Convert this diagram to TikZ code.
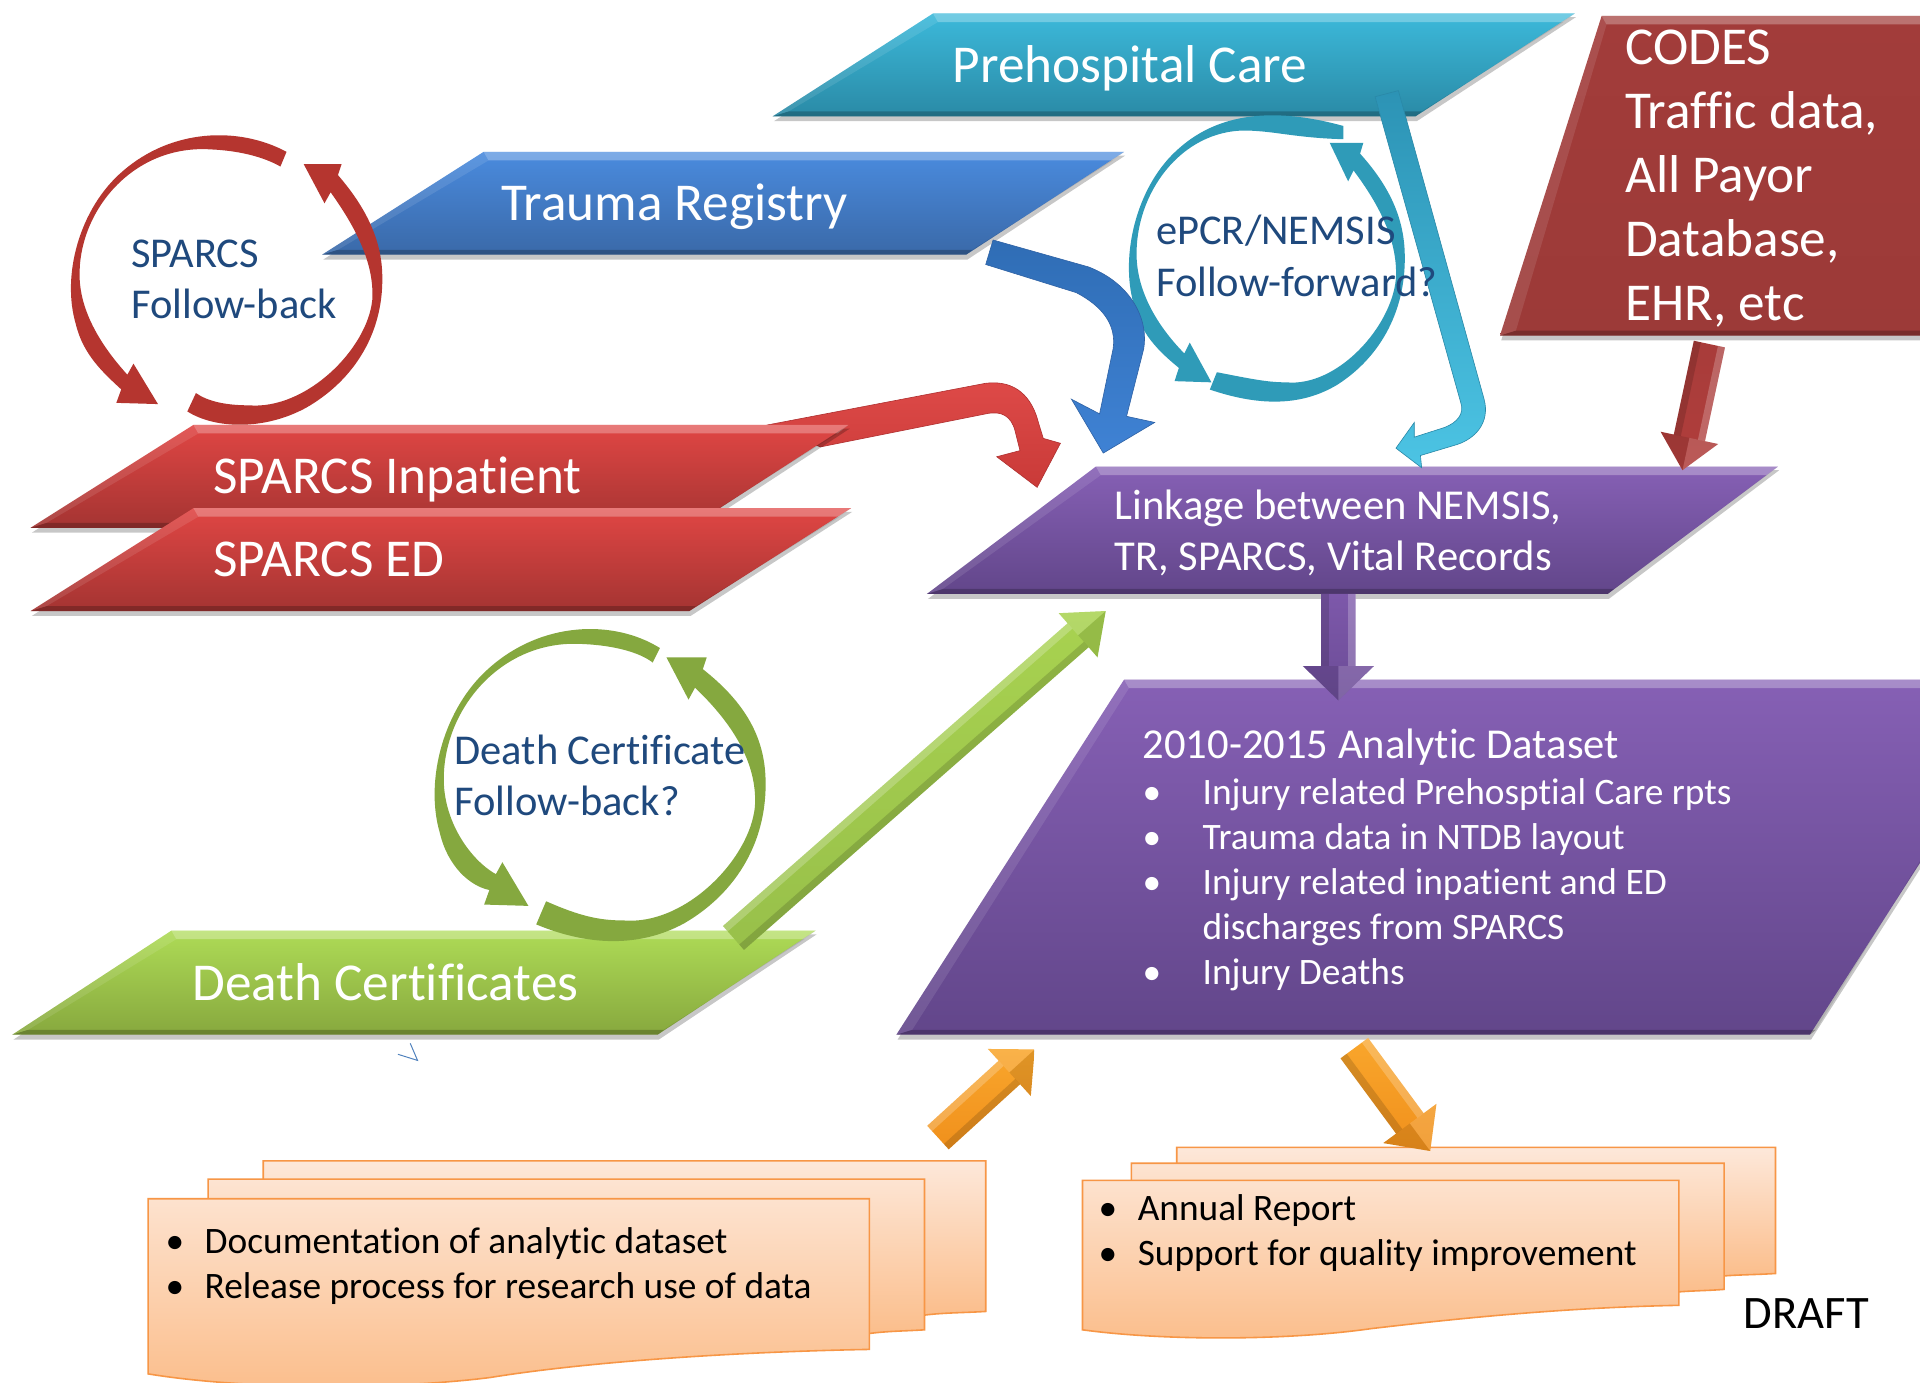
\documentclass[tikz,border=0pt]{standalone}
\usepackage{fontspec}
\setmainfont{Carlito}[Ligatures=NoCommon]
\usetikzlibrary{calc}
\definecolor{navy}{HTML}{1F497D}
\definecolor{docline}{HTML}{F79646}
\definecolor{tealT}{HTML}{3CB9DA}\definecolor{tealB}{HTML}{2A8AA6}
\definecolor{blueT}{HTML}{4A8BDE}\definecolor{blueB}{HTML}{3A69A8}
\definecolor{redT}{HTML}{E04644}\definecolor{redB}{HTML}{A43432}
\definecolor{grnT}{HTML}{AEDB56}\definecolor{grnB}{HTML}{87A83E}
\definecolor{wineT}{HTML}{A23C3A}\definecolor{wineB}{HTML}{9C3A38}
\definecolor{purT}{HTML}{8660B5}\definecolor{purB}{HTML}{62468A}
\definecolor{sheetA}{HTML}{FDE8DA}\definecolor{sheetB}{HTML}{FDE4D2}\definecolor{sheetC}{HTML}{FDE2CE}
\definecolor{ringRed}{HTML}{B5352F}\definecolor{ringTeal}{HTML}{2F9BB8}\definecolor{ringGrn}{HTML}{85A83F}
\definecolor{arrRedT}{HTML}{DE4A48}\definecolor{arrRedB}{HTML}{C93A38}\definecolor{arrRedL}{HTML}{B03030}
\definecolor{arrBluT}{HTML}{2F6DB5}\definecolor{arrBluB}{HTML}{3F82D4}\definecolor{arrBluL}{HTML}{2F62A5}
\definecolor{arrTeaT}{HTML}{2C93B5}\definecolor{arrTeaB}{HTML}{4CC4E4}\definecolor{arrTeaL}{HTML}{2A89A8}
\definecolor{arrWinT}{HTML}{A83C3A}\definecolor{arrWinB}{HTML}{B03E3C}
\definecolor{arrPurT}{HTML}{7D58AA}\definecolor{arrPurB}{HTML}{6B4C96}
\definecolor{arrGrnT}{HTML}{A8D250}\definecolor{arrGrnB}{HTML}{98C04A}
\definecolor{orgT}{HTML}{F9A62C}\definecolor{orgB}{HTML}{F0901C}
\definecolor{markBlue}{HTML}{4F81BD}
\definecolor{sheetEnd}{HTML}{FBBE8C}
\newcommand\fs[2]{\fontsize{#1}{#2}\selectfont}
\tikzset{
  lbl/.style={anchor=west,inner sep=0pt,align=left,text=white},
  bar/.style={anchor=base west,inner sep=0pt,text=white,font=\fs{43.5}{50}},
  dark/.style={anchor=west,inner sep=0pt,align=left,text=navy},
  blk/.style={anchor=west,inner sep=0pt,align=left,text=black},
  sheet/.style={draw=docline,line width=1.3pt,top color=#1,bottom color=sheetEnd},
}
% bevelled parallelogram: corners tl tr br bl, gradient top bottom
\newcommand\bpara[6]{%
  \fill[black,opacity=.22] ($(#1)+(1,3)$) -- ($(#2)+(1,3)$) -- ($(#3)+(1,4)$) -- ($(#4)+(1,4)$) -- cycle;
  \shade[top color=#5,bottom color=#6] (#1) -- (#2) -- (#3) -- (#4) -- cycle;
  \fill[white,opacity=.28] (#1) -- (#2) -- ($(#2)+(-9,7)$) -- ($(#1)+(4,7)$) -- cycle;
  \fill[white,opacity=.10] (#1) -- (#4) -- ($(#4)+(13,-4)$) -- ($(#1)+(4,7)$) -- cycle;
  \fill[black,opacity=.22] (#4) -- (#3) -- ($(#3)+(5,-4)$) -- ($(#4)+(13,-4)$) -- cycle;
  \fill[black,opacity=.10] (#2) -- (#3) -- ($(#3)+(5,-4)$) -- ($(#2)+(-9,7)$) -- cycle;
}
% straight block arrow from (tail) to (tip): half shaft, half head, head length
\newcommand\blockarrow[7]{%
  \coordinate (ba) at ($(#2)!#5pt!(#1)$);
  \shade[top color=#6,bottom color=#7]
    ($(#1)!#3pt!90:(#2)$) -- ($(ba)!#3pt!90:(#2)$) -- ($(ba)!#4pt!90:(#2)$) -- (#2)
    -- ($(ba)!#4pt!-90:(#2)$) -- ($(ba)!#3pt!-90:(#2)$) -- ($(#1)!#3pt!-90:(#2)$) -- cycle;
  \fill[white,opacity=.22] ($(#1)!#3pt!90:(#2)$) -- ($(ba)!#3pt!90:(#2)$) -- ($(ba)!.55*#3pt!90:(#2)$) -- ($(#1)!.55*#3pt!90:(#2)$) -- cycle;
  \fill[white,opacity=.14] ($(ba)!#4pt!90:(#2)$) -- (#2) -- (ba) -- cycle;
  \fill[black,opacity=.14] ($(#1)!#3pt!-90:(#2)$) -- ($(ba)!#3pt!-90:(#2)$) -- ($(ba)!.55*#3pt!-90:(#2)$) -- ($(#1)!.55*#3pt!-90:(#2)$) -- cycle;
  \fill[black,opacity=.10] ($(ba)!#4pt!-90:(#2)$) -- (#2) -- (ba) -- cycle;
}
% pair of crescent arrows. Args: shift x, y, xscale, yscale, colour,
% top end outer, top end inner, bottom start outer, bottom start inner,
% lower head offset, upper head offset
\newcommand\ringpair[9]{%
  \def\ringargs{{#1}{#2}{#3}{#4}{#5}{#6}{#7}{#8}{#9}}\ringpairB}
\newcommand\ringpairB[2]{\expandafter\ringdraw\ringargs{#1}{#2}}
\newcommand\ringdraw[9]{\def\RA{#1}\def\RB{#2}\def\RC{#3}\def\RD{#4}\def\RE{#5}\def\RF{#6}\def\RG{#7}\def\RH{#8}\def\RI{#9}\ringdrawB}
\newcommand\ringdrawB[2]{%
  \begin{scope}[shift={(\RA,\RB)},xscale=\RC,yscale=\RD,shift={(-58,-110)}]
    \fill[\RE] (\RF) .. controls (195,103) and (140,105) .. (100,140)
      .. controls (65,170) and (50,225) .. (62,265)
      .. controls (68,290) and (85,305) .. ($(99,318)+(#1)$)
      -- ($(95,329)+(#1)$) -- ($(129,330)+(#1)$) -- ($(109,297)+(#1)$) -- ($(104,306)+(#1)$)
      .. controls (85,285) and (64,255) .. (65,222)
      .. controls (66,170) and (110,118) .. (172,122)
      .. controls (195,123) and (215,128) .. (\RG) -- cycle;
    \fill[\RE] (\RH) .. controls (175,350) and (215,352) .. (250,333)
      .. controls (290,310) and (315,270) .. (312,220)
      .. controls (310,190) and (295,165) .. ($(276,143)+(#2)$)
      -- ($(279,134)+(#2)$) -- ($(248,134)+(#2)$) -- ($(265,166)+(#2)$) -- ($(270,157)+(#2)$)
      .. controls (290,185) and (306,215) .. (304,245)
      .. controls (300,285) and (250,335) .. (203,331)
      .. controls (185,331) and (170,328) .. (\RI) -- cycle;
  \end{scope}
}
\begin{document}
\begin{tikzpicture}[x=1pt,y=-1pt]
\useasboundingbox (0,0) rectangle (1568,1129.4);
\clip (0,0) rectangle (1568,1129.4);
\fill[white] (0,0) rectangle (1568,1129.4);

% source bars
\bpara{762,11}{1286,11}{1156,95}{631,95}{tealT}{tealB}
\bpara{395,124}{918,124}{789,208}{263,208}{blueT}{blueB}

% red arrow tucked behind the inpatient bar
\shadedraw[top color=arrRedT,bottom color=arrRedB,draw=arrRedL,line width=.5pt]
  (627,347) -- (805,313) .. controls (830,310) and (843,325) .. (848,345)
  -- (852,358) -- (866,362) -- (847,398) -- (814,373) -- (833,368) -- (829,352)
  .. controls (826,340) and (818,335) .. (805,338) -- (670,365) -- cycle;
\bpara{158,347}{693,347}{563,431}{25,431}{redT}{redB}
\bpara{158,415}{695,415}{563,499}{25,499}{redT}{redB}
\bpara{140,760}{666,760}{537,845}{10,845}{grnT}{grnB}

% CODES
\bpara{1308,13}{1600,13}{1600,274}{1225,274}{wineT}{wineB}

% targets
\bpara{895,381}{1452,381}{1313,485}{757,485}{purT}{purB}
\bpara{918,555}{1664,555}{1478,845}{732,845}{purT}{purB}

% documents, left
\shadedraw[sheet=sheetA] (215,948) -- (805,948) -- (805,1071) .. controls (790,1072) and (770,1072) .. (755,1074) -- (215,1074) -- cycle;
\shadedraw[sheet=sheetB] (170,963) -- (755,963) -- (755,1086) .. controls (740,1087) and (725,1087) .. (710,1089) -- (170,1089) -- cycle;
\shadedraw[sheet=sheetC] (121,979) -- (710,979) -- (710,1102) .. controls (600,1104) and (480,1112) .. (400,1125)
   .. controls (320,1135) and (200,1135) .. (121,1122) -- cycle;
% documents, right
\shadedraw[sheet=sheetA] (961,937) -- (1450,937) -- (1450,1040) .. controls (1435,1041) and (1420,1041) .. (1408,1042) -- (961,1042) -- cycle;
\shadedraw[sheet=sheetB] (924,950) -- (1408,950) -- (1408,1053) .. controls (1395,1054) and (1385,1054) .. (1371,1055) -- (924,1055) -- cycle;
\shadedraw[sheet=sheetC] (884,964) -- (1371,964) -- (1371,1066) .. controls (1270,1068) and (1180,1078) .. (1120,1085)
   .. controls (1050,1095) and (950,1095) .. (884,1086) -- cycle;

% rings
\ringpair{58}{110}{1}{1}{ringRed}{234,124}{229,136}{153,336}{160,321}{0,0}{0,0}
\ringpair{922}{95}{.886}{.983}{ringTeal}{255.5,118}{255.5,129}{132.5,337}{139,322.6}{5,1}{-5,-2}
\ringpair{355}{513}{1.063}{1.08}{ringGrn}{231,125}{225.5,136}{136,334}{143.6,316.5}{1,-10}{-12,-2}

% curved block arrows
\shadedraw[top color=arrBluT,bottom color=arrBluB,draw=arrBluL,line width=.5pt]
  (811,196) -- (889,218) .. controls (925,232) and (938,262) .. (934,285)
  -- (920,340) -- (943,345) -- (901,370) -- (875,326) -- (898,338) -- (909,285)
  .. controls (912,265) and (900,250) .. (879,239) -- (805,216) -- cycle;
\shadedraw[top color=arrTeaT,bottom color=arrTeaB,draw=arrTeaL,line width=.5pt]
  (1123,79) -- (1142,74) -- (1212,326) .. controls (1217,345) and (1205,358) .. (1190,363)
  -- (1160,372) -- (1161,382) -- (1140,366) -- (1155,345) -- (1155,357) -- (1180,349)
  .. controls (1190,345) and (1196,338) .. (1193,329) -- cycle;

% straight block arrows
\coordinate (codesTail) at (1396,281);  \coordinate (linkTipA) at (1374,384);
\blockarrow{codesTail}{linkTipA}{13}{24}{27}{arrWinT}{arrWinB}
\coordinate (linkOut) at (1093,485);    \coordinate (dataIn) at (1093,572);
\blockarrow{linkOut}{dataIn}{14}{29}{28}{arrPurT}{arrPurB}
\coordinate (deathOut) at (599,766);    \coordinate (linkTipB) at (903,499);
\blockarrow{deathOut}{linkTipB}{13}{24}{30}{arrGrnT}{arrGrnB}
\coordinate (docOut) at (766,929);      \coordinate (dataTipB) at (845,857);
\blockarrow{docOut}{dataTipB}{13}{26}{28}{orgT}{orgB}
\coordinate (dataOut) at (1106,856);    \coordinate (docTip) at (1168,940);
\blockarrow{dataOut}{docTip}{14}{27}{28}{orgT}{orgB}

% stray mark
\draw[color=markBlue,line width=.8pt] (335,852) -- (341,866) -- (325,861);

% labels
\node[bar] (prehosp) at (778,67) {Prehospital Care};
\node[bar] (trauma) at (409,180) {Trauma Registry};
\node[bar] (inpatient) at (174,403) {SPARCS Inpatient};
\node[bar] (edbar) at (174,471) {SPARCS ED};
\node[bar] (death) at (157,817) {Death Certificates};
\node[lbl,font=\fs{43.5}{52.3}] (codes) at (1327,146) {CODES\\Traffic data,\\All Payor\\Database,\\EHR, etc};
\node[lbl,font=\fs{34.8}{42}] (linkage) at (910,435) {Linkage between NEMSIS,\\TR, SPARCS, Vital Records};
\node[lbl,font=\fs{34.8}{40}] (analytic) at (933,610) {2010-2015 Analytic Dataset};
\node[lbl,font=\fs{30.5}{36.75}] (analist) at (933,722.5) {%
  \makebox[49pt][l]{•}Injury related Prehosptial Care rpts\\
  \makebox[49pt][l]{•}Trauma data in NTDB layout\\
  \makebox[49pt][l]{•}Injury related inpatient and ED\\
  \makebox[49pt][l]{}discharges from SPARCS\\
  \makebox[49pt][l]{•}Injury Deaths};
\node[dark,font=\fs{34.7}{42}] (sparcsfb) at (107,228) {SPARCS\\Follow-back};
\node[dark,font=\fs{34.7}{42}] (epcr) at (944,209) {ePCR/NEMSIS\\Follow-forward?};
\node[dark,font=\fs{34.7}{41.5}] (deathfb) at (371,633) {Death Certificate\\Follow-back?};
\node[blk,font=\fs{30.5}{36.8}] (docleft) at (135,1034) {%
  \makebox[32pt][l]{•}Documentation of analytic dataset\\
  \makebox[32pt][l]{•}Release process for research use of data};
\node[blk,font=\fs{30.5}{36.8}] (docright) at (897,1007) {%
  \makebox[32pt][l]{•}Annual Report\\
  \makebox[32pt][l]{•}Support for quality improvement};
\node[blk,font=\fs{38}{44}] (draft) at (1424,1073) {DRAFT};
\end{tikzpicture}
\end{document}
